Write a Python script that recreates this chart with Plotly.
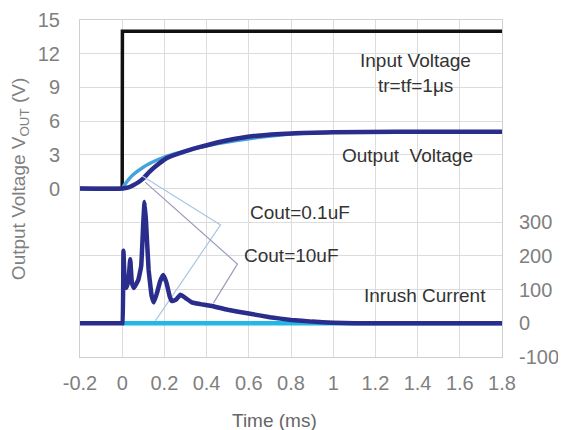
import plotly.graph_objects as go

# ---- data (time in ms) ----
t_in = [-0.2, 0.0, 0.001, 1.8]
v_in = [0, 0, 14, 14]

t_out_10u = [-0.2, 0.0, 0.03, 0.05, 0.08, 0.10, 0.13, 0.16, 0.21, 0.28, 0.37, 0.45, 0.53, 0.64, 0.8, 1.0, 1.3, 1.8]
v_out_10u = [0, 0, 0.1, 0.27, 0.6, 0.9, 1.5, 2.0, 2.7, 3.2, 3.7, 4.1, 4.4, 4.7, 4.9, 5.0, 5.05, 5.05]

t_out_01u = [-0.2, 0.0, 0.01, 0.05, 0.10, 0.15, 0.20, 0.25, 0.30, 0.40, 0.55, 0.8, 1.0, 1.8]
v_out_01u = [0, 0, 0.3, 1.2, 1.9, 2.4, 2.8, 3.1, 3.35, 3.8, 4.3, 4.85, 5.0, 5.05]

t_cur_10u = [-0.2, 0.0, 0.002, 0.006, 0.012, 0.02, 0.03, 0.038, 0.046, 0.055, 0.076, 0.09, 0.1, 0.106,
             0.113, 0.125, 0.14, 0.15, 0.165, 0.18, 0.195, 0.21, 0.225, 0.235, 0.255, 0.276, 0.3,
             0.33, 0.37, 0.42, 0.5, 0.6, 0.7, 0.8, 0.9, 1.0, 1.1, 1.2, 1.8]
i_cur_10u = [0, 0, 0, 215, 120, 105, 130, 190, 120, 105, 128, 170, 300, 360,
             300, 160, 80, 62, 90, 125, 143, 120, 80, 66, 70, 85, 75,
             62, 57, 52, 40, 29, 18, 10, 5, 2, 0.5, 0, 0]

t_cur_01u = [0.0, 1.8]
i_cur_01u = [0, 0]

x_ticks = [-0.2, 0, 0.2, 0.4, 0.6, 0.8, 1.0, 1.2, 1.4, 1.6, 1.8]
x_ticktext = ["-0.2", "0", "0.2", "0.4", "0.6", "0.8", "1", "1.2", "1.4", "1.6", "1.8"]
y_ticks = [0, 3, 6, 9, 12, 15]
y_ticktext = ["0", "3", "6", "9", "12", "15"]
y_grid_lower = [-15, -12, -9, -6, -3]
y2_ticks = [-100, 0, 100, 200, 300]
y2_ticktext = ["-100", "0", "100", "200", "300"]

# leader lines (t, current-axis units)
lead_01u_x = [0.095, 0.466, 0.157]
lead_01u_y = [437, 292, 7]
lead_10u_x = [0.109, 0.546, 0.432]
lead_10u_y = [419, 176, 60]

NAVY = "#2b2d8c"
LIGHT = "#45a3dc"
CYAN = "#22b8e6"
GRID = "#dcdcdc"

fig = go.Figure()
fig.add_trace(go.Scatter(x=lead_01u_x, y=lead_01u_y, yaxis="y2", mode="lines",
                         line=dict(color="#a9c8e2", width=1.2), hoverinfo="skip"))
fig.add_trace(go.Scatter(x=lead_10u_x, y=lead_10u_y, yaxis="y2", mode="lines",
                         line=dict(color="#9a9abb", width=1.2), hoverinfo="skip"))
fig.add_trace(go.Scatter(x=t_in, y=v_in, mode="lines", line=dict(color="#111111", width=3.5)))
fig.add_trace(go.Scatter(x=t_out_01u, y=v_out_01u, mode="lines",
                         line=dict(color=LIGHT, width=3.5, shape="spline", smoothing=0.6)))
fig.add_trace(go.Scatter(x=t_out_10u, y=v_out_10u, mode="lines",
                         line=dict(color=NAVY, width=4.5, shape="spline", smoothing=0.6)))
fig.add_trace(go.Scatter(x=t_cur_01u, y=i_cur_01u, yaxis="y2", mode="lines",
                         line=dict(color=CYAN, width=4.5)))
fig.add_trace(go.Scatter(x=t_cur_10u, y=i_cur_10u, yaxis="y2", mode="lines",
                         line=dict(color=NAVY, width=4.5, shape="spline", smoothing=0.3)))

FONT = "Liberation Sans, Arial, sans-serif"
tickfont = dict(family=FONT, size=20, color="#7f7f7f")
ann_font = dict(family=FONT, size=19, color="#333333")

# the page body adds an 8px offset, so the figure is 8px smaller and margins shifted
fig.update_layout(
    width=558, height=422,
    margin=dict(l=72, r=64, t=12, b=73),
    paper_bgcolor="white", plot_bgcolor="white",
    showlegend=False,
    xaxis=dict(range=[-0.2, 1.8], tickvals=x_ticks, ticktext=x_ticktext, automargin=False,
               showgrid=True, gridcolor=GRID, gridwidth=1, zeroline=False,
               showline=True, linecolor="#cfcfcf", mirror=True,
               ticks="outside", ticklen=8, tickcolor="rgba(0,0,0,0)", tickfont=tickfont),
    yaxis=dict(range=[-15, 15], tickvals=y_ticks, ticktext=y_ticktext, automargin=False,
               showgrid=True, gridcolor=GRID, gridwidth=1, zeroline=False,
               showline=True, linecolor="#cfcfcf", mirror=True,
               ticks="outside", ticklen=15, tickcolor="rgba(0,0,0,0)", tickfont=tickfont,
               minor=dict(tickmode="array", tickvals=y_grid_lower, showgrid=True,
                          gridcolor=GRID, gridwidth=1, ticks="")),
    yaxis2=dict(range=[-100, 900], tickvals=y2_ticks, ticktext=y2_ticktext, automargin=False,
                overlaying="y", side="right", showgrid=False, zeroline=False,
                ticks="outside", ticklen=12, tickcolor="rgba(0,0,0,0)", tickfont=tickfont),
    annotations=[
        dict(x=1.392, y=11.4, xref="x", yref="y", text="Input Voltage", showarrow=False, font=ann_font),
        dict(x=1.392, y=9.2, xref="x", yref="y", text="tr=tf=1μs", showarrow=False, font=ann_font),
        dict(x=1.354, y=2.95, xref="x", yref="y", text="Output  Voltage", showarrow=False, font=ann_font),
        dict(x=0.594, y=-2.14, xref="x", yref="y", text="Cout=0.1uF", showarrow=False,
             xanchor="left", font=ann_font),
        dict(x=0.57, y=-5.98, xref="x", yref="y", text="Cout=10uF", showarrow=False,
             xanchor="left", font=ann_font),
        dict(x=1.435, y=-9.55, xref="x", yref="y", text="Inrush Current", showarrow=False, font=ann_font),
        dict(x=-0.142, y=0.528, xref="paper", yref="paper", text="Output Voltage V<sub>OUT</sub> (V)",
             xanchor="center", yanchor="middle",
             textangle=-90, showarrow=False, font=dict(family=FONT, size=19, color="#7f7f7f")),
        dict(x=0.46, y=-0.188, xref="paper", yref="paper", text="Time (ms)", showarrow=False,
             xanchor="center", yanchor="middle",
             font=dict(family=FONT, size=19, color="#666666")),
    ],
)

fig.write_html("out.html")
